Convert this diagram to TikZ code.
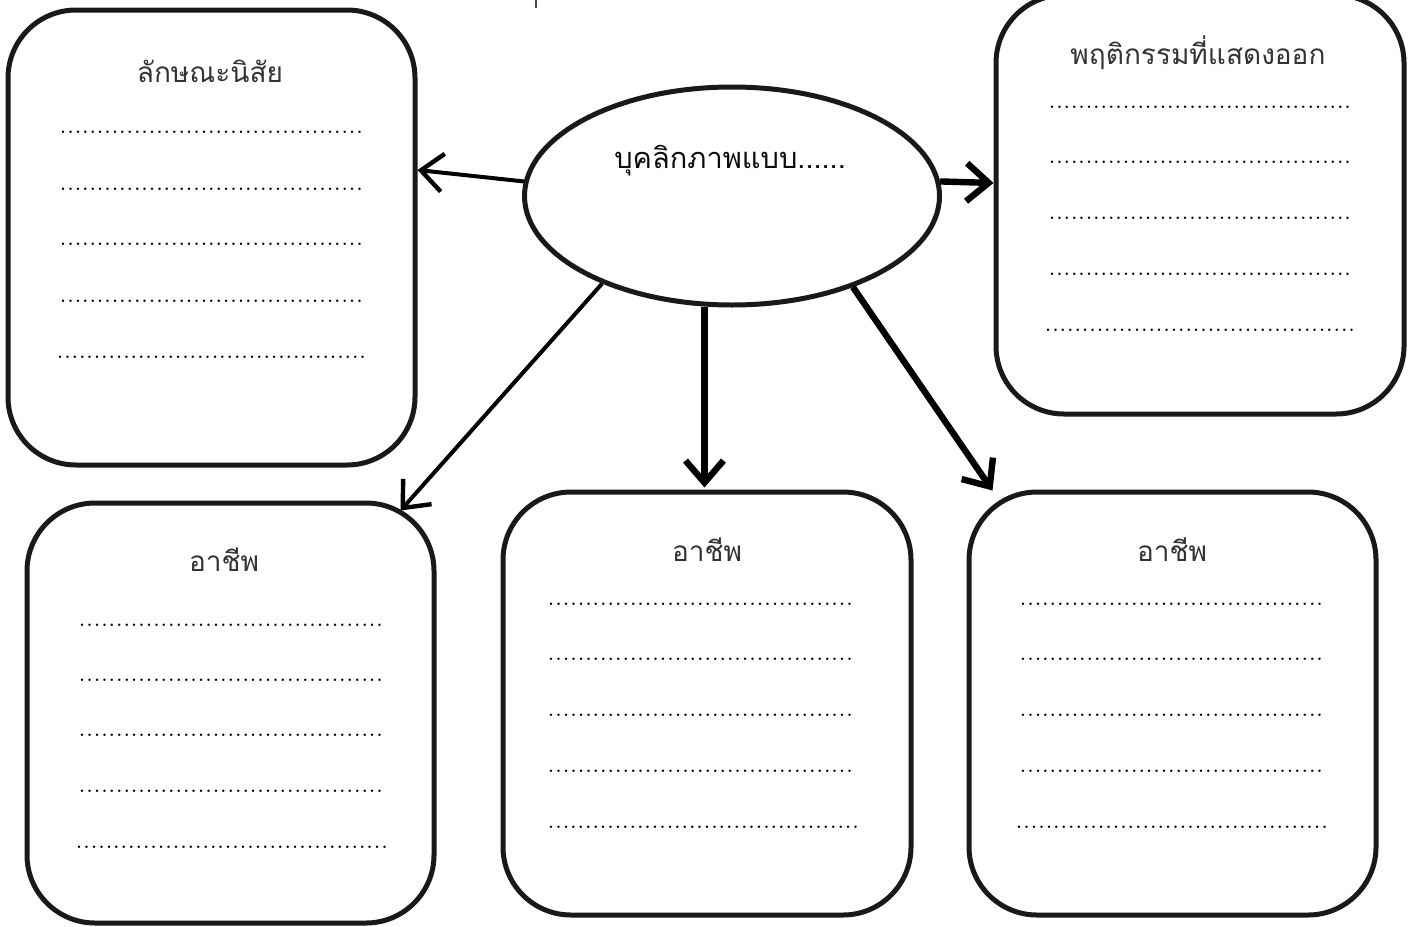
\documentclass[tikz,border=0pt]{standalone}
\usepackage{fontspec}
\newfontfamily\thaifont[Script=Thai]{Loma}
\usetikzlibrary{shapes.geometric,arrows.meta,calc}
\newcommand\dotrow[1]{{\fontsize{15pt}{15pt}\selectfont\makebox[#1]{\xleaders\hbox to 3.65pt{\hss.\hss}\hfill}}}
\tikzset{
  box/.style={draw=black!90, line width=2.5pt, rounded corners=34pt, inner sep=0pt},
  title/.style={font=\thaifont\fontsize{14pt}{16pt}\selectfont, text=black!80, inner sep=0pt},
  dots/.style={inner sep=0pt, anchor=base west},
  thin/.style={line width=2pt, -{Straight Barb[length=11pt,width=19pt,line width=2.2pt]}},
  thick/.style={line width=3.2pt, -{Straight Barb[length=11pt,width=19pt,line width=3.2pt]}},
}
\begin{document}
\begin{tikzpicture}[x=0.5pt,y=-0.5pt]
\useasboundingbox (0,0) rectangle (1411,926);
% boxes
\node[box, minimum width=203.5pt, minimum height=227.5pt] (b1) at (211.5,237.5) {};
\node[box, minimum width=204pt, minimum height=209.5pt] (b2) at (1200,204.5) {};
\node[box, minimum width=203.5pt, minimum height=210pt] (b3) at (230.5,713) {};
\node[box, minimum width=204pt, minimum height=211.5pt] (b4) at (707,703.5) {};
\node[box, minimum width=203.5pt, minimum height=211.5pt] (b5) at (1172.5,703.5) {};
\node[ellipse, draw=black!90, line width=2.5pt, minimum width=207.5pt, minimum height=109pt, inner sep=0pt] (ell) at (732,196) {};
% titles
\node[title] (t1) at (210,71) {ลักษณะนิสัย};
\node[title] (t2) at (1198,53) {พฤติกรรมที่แสดงออก};
\node[title] (t3) at (224,560) {อาชีพ};
\node[title] (t4) at (707,550) {อาชีพ};
\node[title] (t5) at (1172,550) {อาชีพ};
\node[title, text=black!95, font=\thaifont\fontsize{14.5pt}{16pt}\selectfont] (tc) at (730,161) {บุคลิกภาพแบบ......};
% dotted rows
\foreach \y/\i in {133/1,190/2,245/3,302/4}{\node[dots] (d1\i) at (59,\y) {\dotrow{152pt}};}
\node[dots] (d15) at (56,358) {\dotrow{155pt}};
\foreach \y/\i in {108/1,163/2,219/3,275/4}{\node[dots] (d2\i) at (1048,\y) {\dotrow{151.5pt}};}
\node[dots] (d25) at (1044,331) {\dotrow{155.5pt}};
\foreach \y/\i in {626/1,681/2,736/3,792/4}{\node[dots] (d3\i) at (78,\y) {\dotrow{152.5pt}};}
\node[dots] (d35) at (75,848) {\dotrow{156.5pt}};
\foreach \y/\i in {605/1,660/2,716/3,772/4}{\node[dots] (d4\i) at (547,\y) {\dotrow{153pt}};}
\node[dots] (d45) at (547,828) {\dotrow{156pt}};
\foreach \y/\i in {605/1,660/2,716/3,772/4}{\node[dots] (d5\i) at (1019,\y) {\dotrow{152pt}};}
\node[dots] (d55) at (1015,828) {\dotrow{156.5pt}};
% connectors
\coordinate (p1) at ($(b1.east)+(0,-67.5)$);
\coordinate (p2) at ($(b2.west)+(0,-21.5)$);
\coordinate (p3) at ($(b3.north east)+(-36,10)$);
\coordinate (p4) at (ell.256 |- b4.north);
\coordinate (p5) at ($(b5.north west)+(26,1)$);
\draw[thin] (ell.176) -- (p1);
\draw[thick] (ell.4) -- (p2);
\draw[thin] (ell.214) -- (p3);
\draw[thick] (ell.256) -- ($(p4)+(0,-2)$);
\draw[thick] (ell.323) -- (p5);
% small mark at top
\coordinate (m1) at (536,0);
\coordinate (m2) at (536,8);
\draw[line width=1pt, black!70] (m1) -- (m2);
\end{tikzpicture}
\end{document}
